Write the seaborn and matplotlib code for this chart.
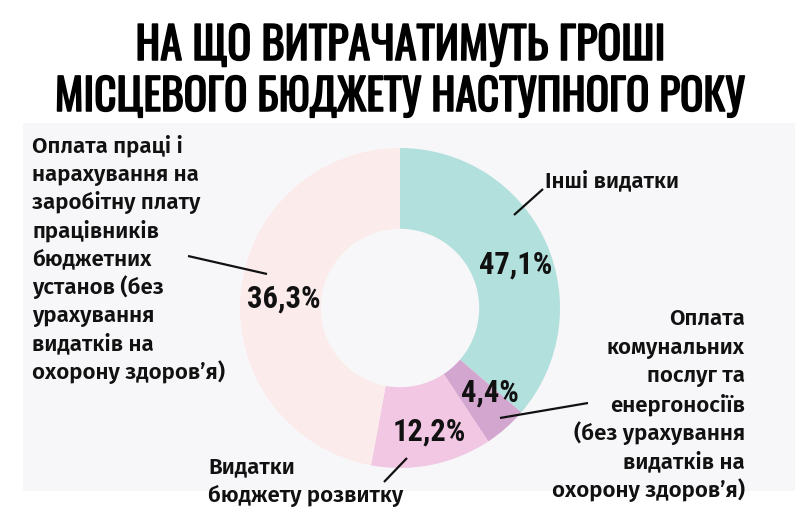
import matplotlib
matplotlib.use("Agg")
import matplotlib.pyplot as plt
import matplotlib.patheffects as pe
from matplotlib.patches import Rectangle
import seaborn as sns

# ---- data ----
title_lines = ["НА ЩО ВИТРАЧАТИМУТЬ ГРОШІ", "МІСЦЕВОГО БЮДЖЕТУ НАСТУПНОГО РОКУ"]
# arc sizes in drawing order (clockwise from the top), as drawn in the picture
arc_shares = [36.3, 4.4, 12.2, 47.1]
# percentage texts printed on each arc, as shown in the picture
value_labels = ["47,1%", "4,4%", "12,2%", "36,3%"]
slice_colors = ["#b2e0dc", "#d3a6cf", "#f2c7e3", "#fcebeb"]
category_labels = [
    ["Інші видатки"],
    ["Оплата", "комунальних", "послуг та", "енергоносіїв", "(без урахування", "видатків на", "охорону здоров’я)"],
    ["Видатки", "бюджету розвитку"],
    ["Оплата праці і", "нарахування на", "заробітну плату", "працівників", "бюджетних", "установ (без", "урахування", "видатків на", "охорону здоров’я)"],
]

sns.set_theme(style="white")
TITLEF = ["Oswald", "Fira Sans Extra Condensed", "Roboto Condensed", "DejaVu Sans"]
COND = ["Roboto Condensed", "Fira Sans Condensed", "PT Sans Narrow", "DejaVu Sans"]
BODY = ["Fira Sans", "Open Sans", "DejaVu Sans"]

H = 524
fig = plt.figure(figsize=(8, 5.24), dpi=100)
fig.patch.set_facecolor("white")
ax = fig.add_axes([0, 0, 1, 1])

def Y(y):
    return H - y

# donut
cx, cy, R = 400, Y(308), 160
wedges, _ = ax.pie(arc_shares, colors=slice_colors, startangle=90, counterclock=False,
                   center=(cx, cy), radius=R, frame=True,
                   wedgeprops=dict(width=R * 0.505, edgecolor="none"))
ax.set_xlim(0, 800)
ax.set_ylim(0, H)
ax.set_aspect("equal")
ax.axis("off")

# light panel behind the chart
ax.add_patch(Rectangle((23, Y(491)), 772, 368, facecolor="#f7f7f9", edgecolor="none", zorder=0))

# percentage labels
pct_pos = [(516, 265), (490, 393), (429, 432), (284, 299)]
for (px, py), lab in zip(pct_pos, value_labels):
    ax.text(px, Y(py), lab, ha="center", va="center", fontsize=22, fontweight="bold",
            family=COND, color="#111111", zorder=5)

# title, fitted to the width seen in the reference, with a light stroke for weight
renderer = fig.canvas.get_renderer()
targets = [530, 690]
for line, base, tw in zip(title_lines, [60, 111], targets):
    t = ax.text(400, Y(base), line, ha="center", va="baseline", fontsize=40, fontweight="bold",
                family=TITLEF, color="#000000",
                path_effects=[pe.withStroke(linewidth=1.1, foreground="#000000")])
    w = t.get_window_extent(renderer).width
    t.set_fontsize(40 * tw / w)

def block(lines, x, base0, step, ha):
    for i, t in enumerate(lines):
        ax.text(x, Y(base0 + i * step), t, ha=ha, va="baseline", fontsize=16,
                fontweight="semibold", family=BODY, color="#111111", zorder=5)

block(category_labels[0], 545, 187, 28.5, "left")
block(category_labels[1], 745, 325, 28.7, "right")
block(category_labels[2], 208, 473, 29, "left")
block(category_labels[3], 32, 153, 28.2, "left")

# leader lines
leaders = [((543, 189), (514, 215)),
           ((588, 403), (500, 418)),
           ((384, 482), (407, 458)),
           ((188, 256), (267, 274))]
for (x0, y0), (x1, y1) in leaders:
    ax.plot([x0, x1], [Y(y0), Y(y1)], color="#111111", lw=1.6, zorder=6, solid_capstyle="butt")

fig.savefig("out.png", dpi=100, facecolor="white")
